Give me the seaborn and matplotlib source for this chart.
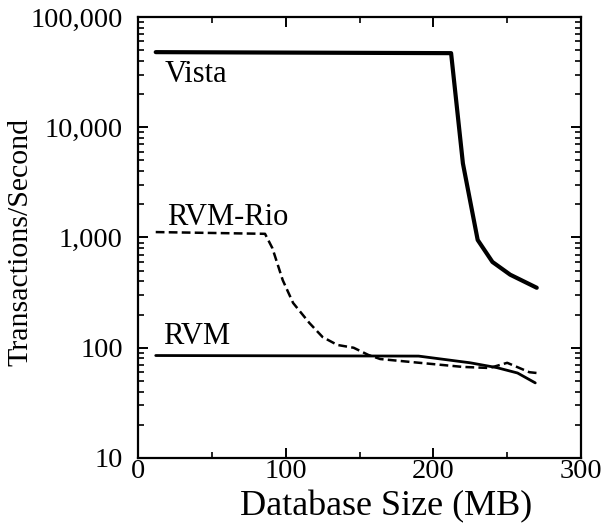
import matplotlib
matplotlib.use("Agg")
import matplotlib.pyplot as plt
import matplotlib.ticker as mticker
import seaborn as sns
import pandas as pd

# Data
vista_x = [12, 212, 220, 230, 240, 252, 270]
vista_y = [48000, 47000, 4700, 950, 600, 460, 350]

rio_x = [12, 86, 91, 98, 105, 116, 125, 135, 146, 156, 164, 186, 220, 238, 250, 265, 270]
rio_y = [1120, 1080, 800, 410, 255, 168, 125, 106, 100, 86, 79, 74, 67, 65.5, 73, 60, 59]

rvm_x = [12, 190, 225, 243, 257, 269]
rvm_y = [85, 84, 73, 66, 59, 48]

labels = ["Vista", "RVM-Rio", "RVM"]
x_ticks = [0, 100, 200, 300]
y_ticks = [10, 100, 1000, 10000, 100000]

sns.set_theme(style="ticks")
plt.rcParams["font.family"] = ["Liberation Serif", "DejaVu Serif"]

fig = plt.figure(figsize=(6.04, 5.23), dpi=100)
ax = fig.add_axes([0.2285, 0.1243, 0.962 - 0.2285, 0.9675 - 0.1243])

df_v = pd.DataFrame({"x": vista_x, "y": vista_y})
df_r = pd.DataFrame({"x": rio_x, "y": rio_y})
df_m = pd.DataFrame({"x": rvm_x, "y": rvm_y})

sns.lineplot(data=df_v, x="x", y="y", ax=ax, color="black", linewidth=3.0, sort=False)
sns.lineplot(data=df_r, x="x", y="y", ax=ax, color="black", linewidth=1.8,
             linestyle=(0, (3.5, 1.7)), sort=False)
sns.lineplot(data=df_m, x="x", y="y", ax=ax, color="black", linewidth=2.0, sort=False)

ax.set_yscale("log")
ax.set_xlim(0, 300)
ax.set_ylim(10, 100000)
ax.set_xticks(x_ticks)
ax.xaxis.set_minor_locator(mticker.MultipleLocator(50))
ax.set_yticks(y_ticks)
ax.yaxis.set_major_formatter(mticker.FuncFormatter(lambda v, p: f"{v:,.0f}"))
ax.yaxis.set_minor_locator(mticker.LogLocator(base=10, subs=range(2, 10)))
ax.yaxis.set_minor_formatter(mticker.NullFormatter())

ax.tick_params(which="both", direction="in", top=True, right=True, color="black",
               labelsize=20.5, labelcolor="black")
ax.tick_params(which="major", length=7, width=1.4)
ax.tick_params(which="minor", length=4, width=1.2)
ax.tick_params(axis="y", which="major", pad=11)
ax.tick_params(axis="x", which="major", pad=1)

for s in ax.spines.values():
    s.set_linewidth(1.6)
    s.set_color("black")

ax.set_xlabel("Database Size (MB)", fontsize=26, color="black")
ax.xaxis.set_label_coords(0.56, -0.074)
ax.xaxis.label.set_va("top")
ax.set_ylabel("Transactions/Second", fontsize=21.5, color="black")
ax.yaxis.set_label_coords(-0.235, 0.49)

ax.text(18.3, 25700, labels[0], fontsize=22, ha="left", va="baseline", color="black")
ax.text(19.6, 1300, labels[1], fontsize=22, ha="left", va="baseline", color="black")
ax.text(17.0, 108, labels[2], fontsize=22, ha="left", va="baseline", color="black")

fig.savefig("out.png", dpi=100, facecolor="white")
